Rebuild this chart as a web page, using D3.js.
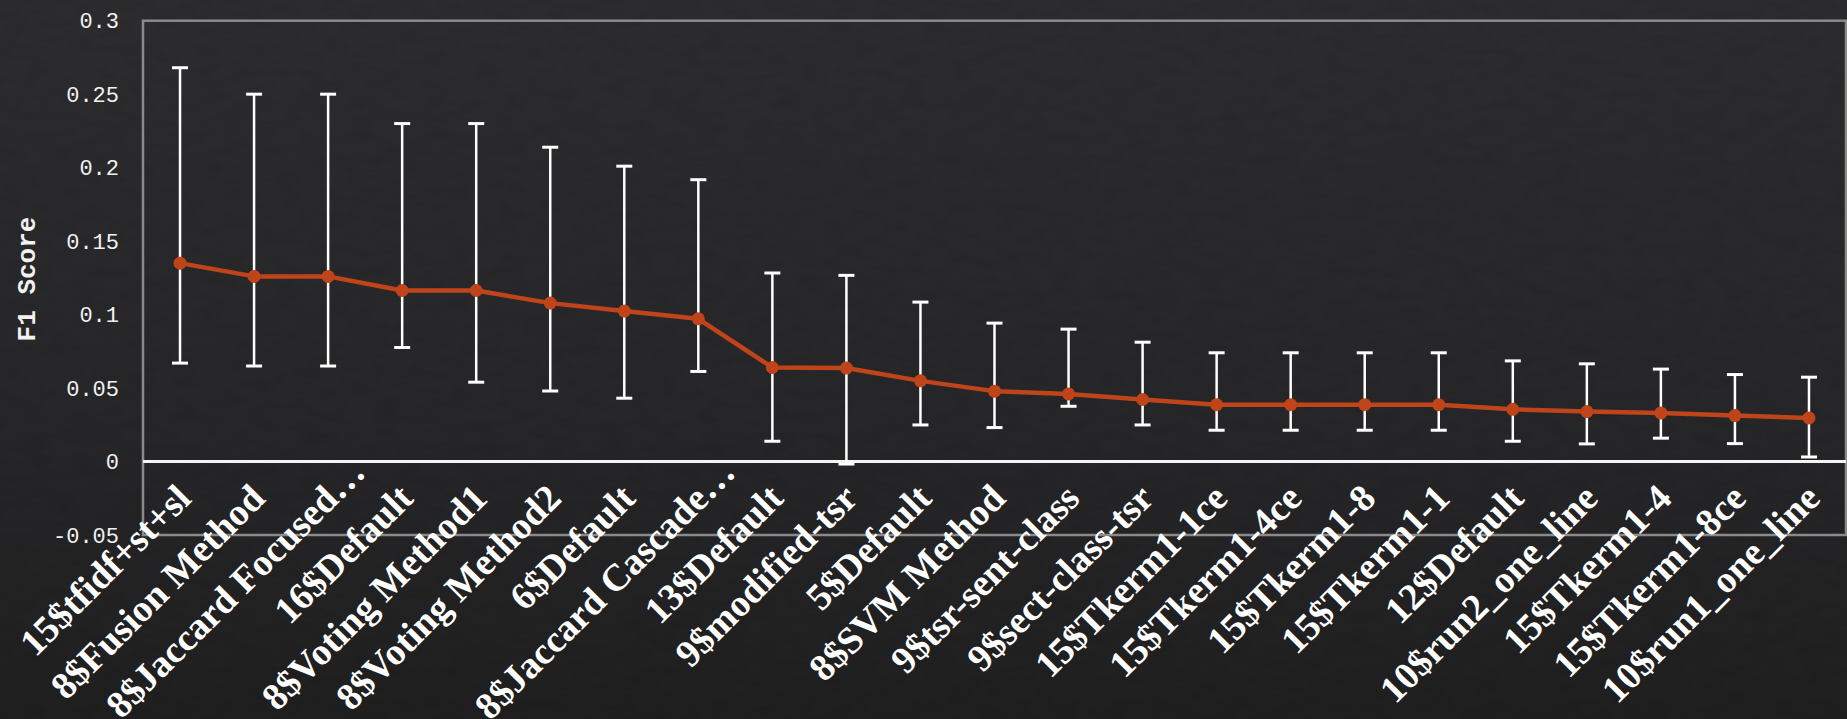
<!DOCTYPE html>
<html>
<head>
<meta charset="utf-8">
<script src="https://cdn.jsdelivr.net/npm/d3@7"></script>
<style>
  html, body { margin: 0; padding: 0; background: #252527; overflow: hidden; }
  svg { display: block; }
</style>
</head>
<body>
<svg id="chart" width="1847" height="719"></svg>
<script>
// Runs, ordered by mean F1
const categories = [
  "15$tfidf+st+sl", "8$Fusion Method", "8$Jaccard Focused…", "16$Default",
  "8$Voting Method1", "8$Voting Method2", "6$Default", "8$Jaccard Cascade…",
  "13$Default", "9$modified-tsr", "5$Default", "8$SVM Method",
  "9$tsr-sent-class", "9$sect-class-tsr", "15$Tkerm1-1ce", "15$Tkerm1-4ce",
  "15$Tkerm1-8", "15$Tkerm1-1", "12$Default", "10$run2_one_line",
  "15$Tkerm1-4", "15$Tkerm1-8ce", "10$run1_one_line"
];

// Mean F1 per run
const f1Mean = [
  0.135, 0.126, 0.126, 0.1164, 0.1164, 0.1078, 0.1024, 0.0971,
  0.064, 0.0636, 0.0549, 0.0479, 0.046, 0.0422, 0.0387, 0.0387,
  0.0387, 0.0387, 0.0355, 0.034, 0.0331, 0.0313, 0.0297
];

// Error bar ends
const f1Upper = [
  0.268, 0.250, 0.250, 0.230, 0.230, 0.2139, 0.201, 0.1918,
  0.1283, 0.1267, 0.1085, 0.0942, 0.0901, 0.0812, 0.074, 0.074,
  0.074, 0.074, 0.0685, 0.0665, 0.0629, 0.0592, 0.0574
];
const f1Lower = [
  0.067, 0.065, 0.065, 0.0776, 0.054, 0.048, 0.0431, 0.0613,
  0.0138, -0.0017, 0.0249, 0.0231, 0.0376, 0.0249, 0.0213, 0.0213,
  0.0213, 0.0213, 0.0138, 0.012, 0.0159, 0.0122, 0.0031
];

// Value axis ticks
const yTicks = [-0.05, 0, 0.05, 0.1, 0.15, 0.2, 0.25, 0.3];
const yTickLabels = ["-0.05", "0", "0.05", "0.1", "0.15", "0.2", "0.25", "0.3"];

const W = 1847, H = 719;
const plot = { left: 143, right: 1846, top: 20.7, bottom: 535 };

const svg = d3.select("#chart");
const defs = svg.append("defs");

// Dark slate backdrop with a faint grain
const grad = defs.append("linearGradient")
  .attr("id", "bg").attr("x1", 0).attr("y1", 0).attr("x2", 0).attr("y2", 1);
grad.append("stop").attr("offset", "0%").attr("stop-color", "#2c2c2e");
grad.append("stop").attr("offset", "60%").attr("stop-color", "#262628");
grad.append("stop").attr("offset", "100%").attr("stop-color", "#1f1f20");

const grain = defs.append("filter").attr("id", "grain")
  .attr("x", 0).attr("y", 0).attr("width", "100%").attr("height", "100%");
grain.append("feTurbulence").attr("type", "fractalNoise")
  .attr("baseFrequency", "0.04 0.09").attr("numOctaves", 3).attr("seed", 3)
  .attr("result", "noise");
grain.append("feColorMatrix").attr("in", "noise").attr("type", "matrix")
  .attr("values", "0 0 0 0 0  0 0 0 0 0  0 0 0 0 0  0 0 0 1 -0.45")
  .attr("result", "alpha");
grain.append("feComposite").attr("in", "alpha").attr("in2", "SourceGraphic").attr("operator", "in");

svg.append("rect").attr("width", W).attr("height", H).attr("fill", "url(#bg)");
svg.append("rect").attr("width", W).attr("height", H).attr("fill", "#000")
  .attr("filter", "url(#grain)").attr("opacity", 0.12);

const x = d3.scalePoint()
  .domain(categories)
  .range([plot.left, plot.right])
  .padding(0.5);

const y = d3.scaleLinear()
  .domain([-0.05, 0.3])
  .range([plot.bottom, plot.top]);

// Plot frame
svg.append("rect")
  .attr("x", plot.left).attr("y", plot.top)
  .attr("width", plot.right - plot.left).attr("height", plot.bottom - plot.top)
  .attr("fill", "none").attr("stroke", "#8a8a8a").attr("stroke-width", 2.5);

// Value axis
const yAxis = svg.append("g")
  .attr("transform", `translate(${plot.left},0)`)
  .call(d3.axisLeft(y)
    .tickValues(yTicks)
    .tickFormat((d, i) => yTickLabels[i])
    .tickSize(0)
    .tickPadding(24));
yAxis.select(".domain").remove();
yAxis.selectAll("text")
  .attr("fill", "#f2f2f2")
  .style("font-family", "'Liberation Mono', 'Courier New', monospace")
  .style("font-size", "22px");

// Axis title
svg.append("text")
  .attr("transform", `translate(26,279) rotate(-90)`)
  .attr("text-anchor", "middle")
  .attr("dy", "0.35em")
  .attr("fill", "#f2f2f2")
  .style("font-family", "'Liberation Mono', 'Courier New', monospace")
  .style("font-weight", "bold")
  .style("font-size", "26px")
  .text("F1 Score");

// Category axis along zero; truncated names sit a little further out
const xAxis = svg.append("g")
  .attr("transform", `translate(0,${y(0)})`)
  .call(d3.axisBottom(x).tickSize(0).tickSizeOuter(0).tickPadding(0));
xAxis.select(".domain")
  .attr("d", `M${plot.left},0H${plot.right}`)
  .attr("stroke", "#f4f4f4").attr("stroke-width", 3);
xAxis.selectAll(".tick text")
  .attr("y", 0)
  .attr("dy", "0.35em")
  .attr("transform", d => {
    const extra = d.endsWith("…") ? 26 : 0;
    return `translate(${3 + extra},${491 - extra - y(0)}) rotate(-45)`;
  })
  .attr("text-anchor", "end")
  .attr("fill", "#ffffff")
  .style("font-family", "'Liberation Serif', 'Times New Roman', serif")
  .style("font-weight", "bold")
  .style("font-size", "38px");

// Error bars
const eb = svg.append("g").attr("stroke", "#ffffff").attr("fill", "none");
const capHalf = 8;
categories.forEach((c, i) => {
  const cx = x(c);
  eb.append("line")
    .attr("x1", cx).attr("x2", cx)
    .attr("y1", y(f1Upper[i])).attr("y2", y(f1Lower[i]))
    .attr("stroke-width", 2.5);
  [f1Upper[i], f1Lower[i]].forEach(v => {
    eb.append("line")
      .attr("x1", cx - capHalf).attr("x2", cx + capHalf)
      .attr("y1", y(v)).attr("y2", y(v))
      .attr("stroke-width", 3);
  });
});

// Mean F1 line and markers
const lineColor = "#bf4419";
svg.append("path")
  .datum(categories)
  .attr("fill", "none")
  .attr("stroke", lineColor)
  .attr("stroke-width", 4.5)
  .attr("stroke-linejoin", "round")
  .attr("d", d3.line()
    .x(c => x(c))
    .y((c, i) => y(f1Mean[i])));

svg.append("g").selectAll("circle")
  .data(categories)
  .join("circle")
  .attr("cx", c => x(c))
  .attr("cy", (c, i) => y(f1Mean[i]))
  .attr("r", 6.5)
  .attr("fill", lineColor);
</script>
</body>
</html>
